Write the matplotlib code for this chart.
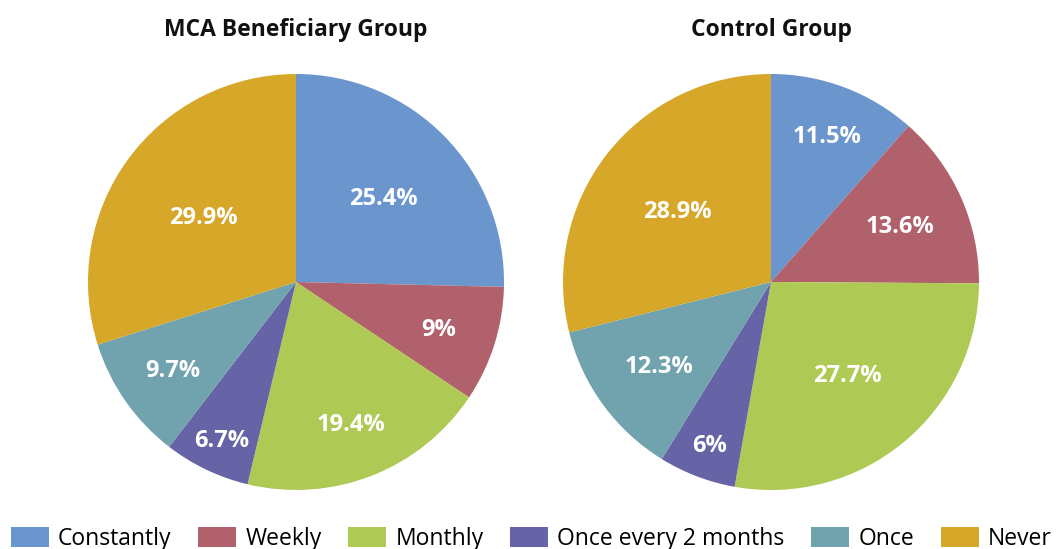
import matplotlib.pyplot as plt
import numpy as np
from matplotlib.patches import Patch

plt.rcParams['font.family'] = ['Open Sans', 'DejaVu Sans']

categories = ['Constantly', 'Weekly', 'Monthly', 'Once every 2 months', 'Once', 'Never']
colors = ['#6A95CD', '#B1616C', '#AFCA54', '#6663A6', '#71A3AE', '#D6A728']

mca_values = [25.4, 9, 19.4, 6.7, 9.7, 29.9]
mca_labels = ['25.4%', '9%', '19.4%', '6.7%', '9.7%', '29.9%']
control_values = [11.5, 13.6, 27.7, 6, 12.3, 28.9]
control_labels = ['11.5%', '13.6%', '27.7%', '6%', '12.3%', '28.9%']

# label distance from centre (fraction of radius), like excel best fit
mca_dist = [0.59, 0.72, 0.72, 0.83, 0.72, 0.55]
control_dist = [0.76, 0.68, 0.57, 0.83, 0.67, 0.57]

W, H = 1057, 549
fig = plt.figure(figsize=(W / 100, H / 100), dpi=100)

R = 208
panels = [
    (296, 'MCA Beneficiary Group', mca_values, mca_labels, mca_dist),
    (771, 'Control Group', control_values, control_labels, control_dist),
]

for cx, title, vals, labs, dists in panels:
    cy = 282
    ax = fig.add_axes([(cx - R) / W, (H - cy - R) / H, 2 * R / W, 2 * R / H])
    wedges, _ = ax.pie(vals, colors=colors, startangle=90, counterclock=False,
                       wedgeprops=dict(linewidth=0))
    for w, lab, d in zip(wedges, labs, dists):
        ang = np.deg2rad((w.theta1 + w.theta2) / 2)
        ax.text(d * np.cos(ang), d * np.sin(ang) - 0.015, lab, ha='center', va='center',
                color='white', fontsize=17, fontweight='bold')
    ax.set_xlim(-1, 1)
    ax.set_ylim(-1, 1)
    fig.text(cx / W, 1 - 30 / H, title, ha='center', va='center',
             fontsize=16.5, fontweight='bold', color='#111111')

handles = [Patch(facecolor=c, edgecolor='none') for c in colors]
fig.legend(handles, categories, loc='center left', bbox_to_anchor=(11 / W, 10 / H),
           ncol=6, frameon=False, fontsize=16.5, handlelength=1.65, handleheight=1.0,
           handletextpad=0.4, columnspacing=1.17, borderpad=0, borderaxespad=0)

fig.savefig('out.png', dpi=100)
